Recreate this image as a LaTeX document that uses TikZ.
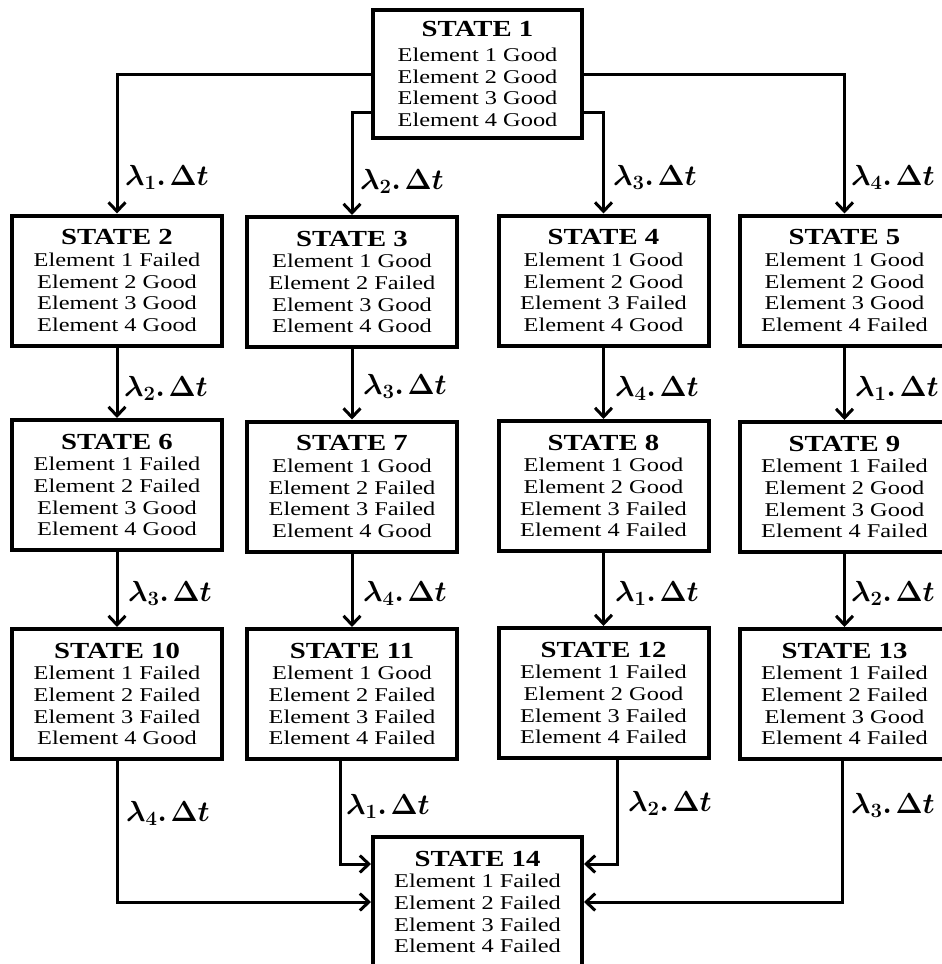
\RequirePackage{fix-cm}
\documentclass[tikz,border=0pt]{standalone}
\usepackage[no-math]{fontspec}
\setmainfont{Liberation Serif}[FakeStretch=1.25]
\usetikzlibrary{arrows.meta}
\newcommand\sttitle[1]{{\fontsize{23}{21.7}\selectfont\bfseries STATE #1}}
\newcommand\rt[1]{$\lambda_{#1}.\mkern2mu\Delta t$}
\begin{document}
\begin{tikzpicture}[x=1pt,y=-1pt,
  state/.style={draw, line width=4pt, minimum width=210pt, minimum height=130pt,
    align=center, inner sep=0pt, font=\fontsize{19.5}{21.7}\selectfont},
  flow/.style={line width=3pt, -{Straight Barb[length=9pt,width=17pt,line width=3pt]}},
  rate/.style={anchor=base west, inner sep=0pt, font=\fontsize{29}{32}\selectfont\boldmath}
]
\useasboundingbox[fill=white] (0,0) rectangle (942,964);

\node[state, minimum width=209pt, minimum height=128pt] (s1) at (477.5,74)
  {\sttitle{1}\\[3pt] Element 1 Good\\ Element 2 Good\\ Element 3 Good\\ Element 4 Good};

\node[state] (s2) at (117,280.5) {\sttitle{2}\\ Element 1 Failed\\ Element 2 Good\\ Element 3 Good\\ Element 4 Good};
\node[state] (s3) at (352,282) {\sttitle{3}\\ Element 1 Good\\ Element 2 Failed\\ Element 3 Good\\ Element 4 Good};
\node[state] (s4) at (603.5,280.5) {\sttitle{4}\\ Element 1 Good\\ Element 2 Good\\ Element 3 Failed\\ Element 4 Good};
\node[state] (s5) at (844.5,280.5) {\sttitle{5}\\ Element 1 Good\\ Element 2 Good\\ Element 3 Good\\ Element 4 Failed};

\node[state] (s6) at (117,485) {\sttitle{6}\\ Element 1 Failed\\ Element 2 Failed\\ Element 3 Good\\ Element 4 Good};
\node[state] (s7) at (352,486.5) {\sttitle{7}\\ Element 1 Good\\ Element 2 Failed\\ Element 3 Failed\\ Element 4 Good};
\node[state] (s8) at (603.5,486) {\sttitle{8}\\ Element 1 Good\\ Element 2 Good\\ Element 3 Failed\\ Element 4 Failed};
\node[state] (s9) at (844.5,487) {\sttitle{9}\\ Element 1 Failed\\ Element 2 Good\\ Element 3 Good\\ Element 4 Failed};

\node[state] (s10) at (117,694) {\sttitle{10}\\ Element 1 Failed\\ Element 2 Failed\\ Element 3 Failed\\ Element 4 Good};
\node[state] (s11) at (352,694) {\sttitle{11}\\ Element 1 Good\\ Element 2 Failed\\ Element 3 Failed\\ Element 4 Failed};
\node[state] (s12) at (603.5,693) {\sttitle{12}\\ Element 1 Failed\\ Element 2 Good\\ Element 3 Failed\\ Element 4 Failed};
\node[state] (s13) at (844.5,694) {\sttitle{13}\\ Element 1 Failed\\ Element 2 Failed\\ Element 3 Good\\ Element 4 Failed};

\node[state, minimum width=209pt] (s14) at (477.5,902) {\sttitle{14}\\ Element 1 Failed\\ Element 2 Failed\\ Element 3 Failed\\ Element 4 Failed};

% from state 1
\draw[flow] (s1.west) -| (s2.north);
\draw[flow] ([yshift=-38pt]s1.west) -| (s3.north);
\draw[flow] ([yshift=-38pt]s1.east) -| (s4.north);
\draw[flow] (s1.east) -| (s5.north);
% columns
\draw[flow] (s2) -- (s6);
\draw[flow] (s3) -- (s7);
\draw[flow] (s4) -- (s8);
\draw[flow] (s5) -- (s9);
\draw[flow] (s6) -- (s10);
\draw[flow] (s7) -- (s11);
\draw[flow] (s8) -- (s12);
\draw[flow] (s9) -- (s13);
% into state 14
\draw[flow] (s10.south) |- (s14.west);
\draw[flow] ([xshift=-12pt]s11.south) |- ([yshift=38pt]s14.west);
\draw[flow] ([xshift=14pt]s12.south) |- ([yshift=38pt]s14.east);
\draw[flow] ([xshift=-2pt]s13.south) |- (s14.east);

% rates
\node[rate] (r12) at (125,185) {\rt{1}};
\node[rate] (r13) at (360,189) {\rt{2}};
\node[rate] (r14) at (613,185) {\rt{3}};
\node[rate] (r15) at (851,185) {\rt{4}};
\node[rate] (r26) at (124,396) {\rt{2}};
\node[rate] (r37) at (363,394) {\rt{3}};
\node[rate] (r48) at (615,396) {\rt{4}};
\node[rate] (r59) at (855,396) {\rt{1}};
\node[rate] (r610) at (128,601) {\rt{3}};
\node[rate] (r711) at (363,601) {\rt{4}};
\node[rate] (r812) at (615,601) {\rt{1}};
\node[rate] (r913) at (851,601) {\rt{2}};
\node[rate] (r1014) at (126,821) {\rt{4}};
\node[rate] (r1114) at (346,814) {\rt{1}};
\node[rate] (r1214) at (628,811) {\rt{2}};
\node[rate] (r1314) at (851,813) {\rt{3}};
\end{tikzpicture}
\end{document}
